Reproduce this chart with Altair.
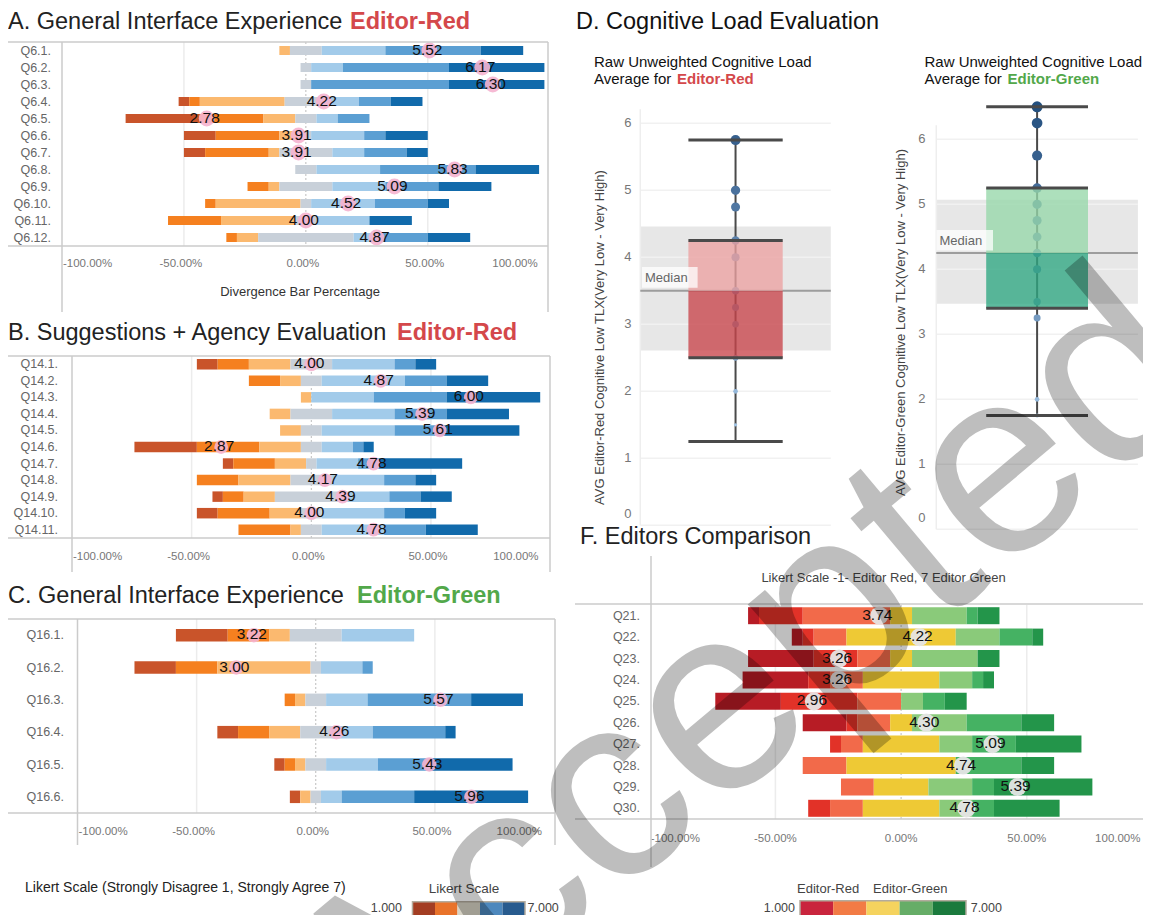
import altair as alt
import pandas as pd

# ------------------------------------------------------------------ data
LEVELS = [1, 2, 3, 4, 5, 6, 7]
TICK_VALUES = [-1.0, -0.5, 0.0, 0.5, 1.0]
TICK_LABELS = ["-100.00%", "-50.00%", "0.00%", "50.00%", "100.00%"]

A_QUESTIONS = ["Q6.1.", "Q6.2.", "Q6.3.", "Q6.4.", "Q6.5.", "Q6.6.", "Q6.7.",
               "Q6.8.", "Q6.9.", "Q6.10.", "Q6.11.", "Q6.12."]
A_COUNTS = [[0, 0, 1, 3, 6, 9, 4], [0, 0, 0, 1, 3, 10, 9], [0, 0, 0, 1, 0, 13, 9],
            [1, 1, 8, 4, 3, 3, 3], [7, 6, 3, 2, 2, 3, 0], [3, 6, 2, 1, 5, 2, 4],
            [2, 6, 1, 5, 3, 4, 2], [0, 0, 0, 2, 6, 9, 6], [0, 2, 1, 5, 5, 5, 5],
            [0, 1, 8, 1, 6, 5, 2], [0, 5, 7, 2, 5, 0, 4], [0, 1, 2, 9, 2, 5, 4]]
A_MEANS = [5.52, 6.17, 6.30, 4.22, 2.78, 3.91, 3.91, 5.83, 5.09, 4.52, 4.00, 4.87]

B_QUESTIONS = ["Q14.1.", "Q14.2.", "Q14.3.", "Q14.4.", "Q14.5.", "Q14.6.", "Q14.7.",
               "Q14.8.", "Q14.9.", "Q14.10.", "Q14.11."]
B_COUNTS = [[2, 3, 4, 4, 6, 2, 2], [0, 3, 2, 2, 8, 4, 4], [0, 0, 1, 0, 6, 7, 9],
            [0, 0, 2, 4, 6, 5, 6], [0, 0, 2, 2, 7, 4, 8], [6, 6, 4, 2, 3, 1, 1],
            [1, 4, 3, 1, 4, 2, 8], [0, 4, 5, 4, 5, 3, 2], [1, 2, 3, 7, 4, 3, 3],
            [2, 5, 3, 2, 6, 2, 3], [0, 5, 1, 2, 6, 4, 5]]
B_MEANS = [4.00, 4.87, 6.00, 5.39, 5.61, 2.87, 4.78, 4.17, 4.39, 4.00, 4.78]

C_QUESTIONS = ["Q16.1.", "Q16.2.", "Q16.3.", "Q16.4.", "Q16.5.", "Q16.6."]
C_COUNTS = [[5, 4, 2, 5, 7, 0, 0], [4, 4, 9, 1, 4, 1, 0], [0, 1, 1, 2, 4, 10, 5],
            [2, 3, 3, 3, 4, 7, 1], [1, 1, 1, 2, 5, 5, 8], [1, 0, 1, 1, 2, 7, 11]]
C_MEANS = [3.22, 3.00, 5.57, 4.26, 5.43, 5.96]

F_QUESTIONS = ["Q21.", "Q22.", "Q23.", "Q24.", "Q25.", "Q26.", "Q27.", "Q28.", "Q29.", "Q30."]
F_COUNTS = [[1, 4, 8, 2, 5, 1, 2], [1, 1, 3, 10, 4, 3, 1], [6, 4, 3, 2, 6, 0, 2],
            [6, 2, 3, 7, 3, 1, 1], [6, 7, 4, 0, 2, 2, 2], [4, 1, 3, 2, 5, 5, 3],
            [0, 1, 2, 7, 3, 4, 6], [0, 0, 4, 10, 0, 6, 3], [0, 0, 3, 5, 4, 2, 9],
            [0, 2, 3, 7, 3, 2, 6]]
F_MEANS = [3.74, 4.22, 3.26, 3.26, 2.96, 4.30, 5.09, 4.74, 5.39, 4.78]

TLX_TICKS = [0, 1, 2, 3, 4, 5, 6]
RED_TLX_POINTS = [5.75, 5.0, 4.75, 4.25, 4.0, 3.5, 3.25, 3.0, 2.5, 2.0, 1.5, 1.25]
RED_TLX_BOX = [1.25, 2.5, 3.5, 4.25, 5.75]        # min, q1, median, q3, max
RED_TLX_BAND = [2.61, 4.46]
GREEN_TLX_POINTS = [6.5, 6.25, 5.75, 5.25, 5.0, 4.75, 4.5, 4.25, 4.0, 3.5, 3.25, 2.0, 1.75]
GREEN_TLX_BOX = [1.75, 3.4, 4.25, 5.25, 6.5]
GREEN_TLX_BAND = [3.47, 5.07]

LEGEND_STEPS = [1, 2, 3, 4, 5]

# ------------------------------------------------------------------ style
LIKERT_COLORS = ["#c9542a", "#f5801f", "#fbb96f", "#c8d0d9", "#a2cbea", "#5b9fd3", "#116aab"]
EDITOR_COLORS = ["#b71c25", "#e23228", "#f26a4a", "#eec935", "#8aca7a", "#45b263", "#23954a"]
LIKERT_LEGEND = ["#a33d22", "#e9732a", "#d8d4c6", "#4d88bd", "#285b8e"]
EDITOR_LEGEND = ["#c9253d", "#f27b45", "#f5d35e", "#66ad67", "#1b7a3d"]
RED = "#d4484b"
GREEN = "#52a84a"
FONT = "Liberation Sans, Arial, sans-serif"
FRAME = "#cbcbcb"
ONE = pd.DataFrame({"_": [0]})


def P(v):
    """page pixel -> chart pixel (8px page margin)"""
    return v - 8


def lbl(text, x, y, size=12, color="#333", weight="normal", align="left",
        baseline="alphabetic", angle=None, opacity=None, font=FONT):
    kw = dict(text=text, fontSize=size, color=color, fontWeight=weight,
              align=align, baseline=baseline, font=font)
    if angle is not None:
        kw["angle"] = angle
    if opacity is not None:
        kw["opacity"] = opacity
    return alt.Chart(ONE).mark_text(**kw).encode(x=alt.value(P(x)), y=alt.value(P(y)))


def hline(x1, x2, y, color=FRAME, width=1.5):
    return alt.Chart(ONE).mark_rule(color=color, strokeWidth=width).encode(
        x=alt.value(P(x1)), x2=alt.value(P(x2)), y=alt.value(P(y)))


def vline(x, y1, y2, color=FRAME, width=1.5):
    return alt.Chart(ONE).mark_rule(color=color, strokeWidth=width).encode(
        x=alt.value(P(x)), y=alt.value(P(y1)), y2=alt.value(P(y2)))


def stack_table(questions, counts):
    rows = []
    for q, cs in zip(questions, counts):
        n = float(sum(cs))
        start = -(cs[0] + cs[1] + cs[2] + cs[3] / 2.0) / n
        for k, c in enumerate(cs):
            if c == 0:
                continue
            rows.append(dict(q=q, level=k + 1, x0=start, x1=start + c / n))
            start += c / n
    return pd.DataFrame(rows)


def likert_panel(questions, counts, means, colors, xr, yr, bar, label_right, tick_y,
                 dot_color, dot_size, dot_opacity, mid_dx=-3, text_size=15.5):
    xs = alt.Scale(domain=[-1, 1], range=[P(xr[0]), P(xr[1])], nice=False, zero=False)
    ys = alt.Scale(domain=questions, range=[P(yr[0]), P(yr[1])], paddingInner=0, paddingOuter=0)
    Y = alt.Y("q:N", scale=ys, axis=None)

    def X(f):
        return alt.X(f, scale=xs, axis=None)

    seg = stack_table(questions, counts)
    mdf = pd.DataFrame({"q": questions, "m": means})
    mdf["mx"] = (mdf["m"] - 4.0) / 3.0
    mdf["label"] = mdf["m"].map(lambda v: "%.2f" % v)
    tdf = pd.DataFrame({"t": TICK_VALUES, "lab": TICK_LABELS})

    grid = alt.Chart(pd.DataFrame({"t": [-0.5, 0.5]})).mark_rule(
        color="#ececec", strokeWidth=1.5).encode(
        x=X("t:Q"), y=alt.value(P(yr[0])), y2=alt.value(P(yr[1])))
    zero = alt.Chart(pd.DataFrame({"t": [0.0]})).mark_rule(
        color="#bdbdbd", strokeWidth=1, strokeDash=[2, 2]).encode(
        x=X("t:Q"), y=alt.value(P(yr[0])), y2=alt.value(P(yr[1])))
    bars = alt.Chart(seg).mark_bar(size=bar).encode(
        x=X("x0:Q"), x2="x1:Q", y=Y,
        color=alt.Color("level:O", scale=alt.Scale(domain=LEVELS, range=colors), legend=None))
    dots = alt.Chart(mdf).mark_circle(size=dot_size, color=dot_color, opacity=dot_opacity).encode(
        x=X("mx:Q"), y=Y)
    txt = alt.Chart(mdf).mark_text(fontSize=text_size, font=FONT, color="#111", dx=-2, dy=-1).encode(
        x=X("mx:Q"), y=Y, text="label:N")
    rowlab = alt.Chart(pd.DataFrame({"q": questions})).mark_text(
        align="right", fontSize=12.5, color="#666", font=FONT).encode(
        x=alt.value(P(label_right)), y=Y, text="q:N")
    tl = alt.Chart(tdf.iloc[[0]]).mark_text(align="left", dx=1, fontSize=11.5, color="#777", font=FONT).encode(
        x=X("t:Q"), y=alt.value(P(tick_y)), text="lab:N")
    tm = alt.Chart(tdf.iloc[1:4]).mark_text(align="center", dx=mid_dx, fontSize=11.5, color="#777", font=FONT).encode(
        x=X("t:Q"), y=alt.value(P(tick_y)), text="lab:N")
    tr = alt.Chart(tdf.iloc[[4]]).mark_text(align="right", dx=-12, fontSize=11.5, color="#777", font=FONT).encode(
        x=X("t:Q"), y=alt.value(P(tick_y)), text="lab:N")
    return alt.layer(grid, zero, bars, dots, txt, rowlab, tl, tm, tr)


def box_panel(cat, points, box, band, pane, box_w, y0, y6, upper, lower, tick_right,
              med_box, med_text):
    pad = (float(pane[1] - pane[0]) / box_w - 1.0) / 2.0
    xs = alt.Scale(domain=[cat], range=[P(pane[0]), P(pane[1])], paddingInner=0, paddingOuter=pad)
    ys = alt.Scale(domain=[0, 6], range=[P(y0), P(y6)], nice=False, zero=False)
    Xc = alt.X("c:N", scale=xs, axis=None)

    def Y(f):
        return alt.Y(f, scale=ys, axis=None)

    stats = pd.DataFrame([dict(c=cat, mn=box[0], q1=box[1], med=box[2], q3=box[3], mx=box[4],
                               lo=band[0], hi=band[1])])
    tick_df = pd.DataFrame({"c": cat, "v": [box[0], box[1], box[3], box[4]]})
    pts = pd.DataFrame({"c": cat, "v": points})
    gdf = pd.DataFrame({"t": TLX_TICKS, "lab": [str(t) for t in TLX_TICKS]})

    band_r = alt.Chart(stats).mark_rect(color="#e7e7e7").encode(
        y=Y("lo:Q"), y2="hi:Q", x=alt.value(P(pane[0])), x2=alt.value(P(pane[1])))
    grid = alt.Chart(gdf).mark_rule(color="#f1f1f1", strokeWidth=1.5).encode(
        y=Y("t:Q"), x=alt.value(P(pane[0])), x2=alt.value(P(pane[1])))
    med_line = alt.Chart(stats).mark_rule(color="#9d9d9d", strokeWidth=2).encode(
        y=Y("med:Q"), x=alt.value(P(pane[0])), x2=alt.value(P(pane[1])))
    whisk = alt.Chart(stats).mark_rule(color="#4a4a4a", strokeWidth=2).encode(
        x=Xc, y=Y("mn:Q"), y2="mx:Q")
    dots = alt.Chart(pts).mark_circle(opacity=1).encode(
        x=Xc, y=Y("v:Q"),
        size=alt.Size("v:Q", scale=alt.Scale(domain=[1, 7], range=[0, 130]), legend=None),
        color=alt.Color("v:Q", scale=alt.Scale(domain=[1.25, 6.5], range=["#a9cbea", "#23507f"]),
                        legend=None))
    low_box = alt.Chart(stats).mark_bar(color=lower, opacity=0.78).encode(
        x=Xc, y=Y("q1:Q"), y2="med:Q")
    up_box = alt.Chart(stats).mark_bar(color=upper, opacity=0.78).encode(
        x=Xc, y=Y("med:Q"), y2="q3:Q")
    ticks = alt.Chart(tick_df).mark_tick(orient="horizontal", size=box_w, thickness=3,
                                         color="#4a4a4a", opacity=1).encode(x=Xc, y=Y("v:Q"))
    tlab = alt.Chart(gdf.iloc[1:]).mark_text(align="right", baseline="middle", fontSize=13,
                                             color="#777", font=FONT).encode(
        x=alt.value(P(tick_right)), y=Y("t:Q"), text="lab:N")
    tlab0 = alt.Chart(gdf.iloc[[0]]).mark_text(align="right", baseline="middle", fontSize=13, dy=-11,
                                               color="#777", font=FONT).encode(
        x=alt.value(P(tick_right)), y=Y("t:Q"), text="lab:N")
    left_edge = vline(pane[0], y6 - 14, y0, color="#eeeeee")
    mbox = alt.Chart(ONE).mark_rect(color="#ffffff", opacity=0.75).encode(
        x=alt.value(P(med_box[0])), x2=alt.value(P(med_box[1])),
        y=alt.value(P(med_box[2])), y2=alt.value(P(med_box[3])))
    mtext = lbl("Median", med_text[0], med_text[1], size=13, color="#666", baseline="middle")
    return alt.layer(band_r, grid, left_edge, med_line, whisk, dots, low_box, up_box, ticks,
                     tlab, tlab0, mbox, mtext)


def legend_bar(colors, xr, yr, tick_x):
    xs = alt.Scale(domain=LEGEND_STEPS, range=[P(xr[0]), P(xr[1])], paddingInner=0, paddingOuter=0)
    rects = alt.Chart(pd.DataFrame({"s": LEGEND_STEPS})).mark_rect().encode(
        x=alt.X("s:O", scale=xs, axis=None), y=alt.value(P(yr[0])), y2=alt.value(P(yr[1])),
        color=alt.Color("s:O", scale=alt.Scale(domain=LEGEND_STEPS, range=colors), legend=None))
    border = alt.Chart(ONE).mark_rect(fillOpacity=0, stroke="#b3ab9d", strokeWidth=1.5).encode(
        x=alt.value(P(xr[0])), x2=alt.value(P(xr[1])), y=alt.value(P(yr[0])), y2=alt.value(P(yr[1])))
    tick = vline(tick_x, yr[1] - 2, 923, color="#000000", width=1.5)
    return alt.layer(rects, border, tick)


layers = []

# ---------------- panel A
layers += [
    lbl("A. General Interface Experience", 8, 29, size=23.5, color="#222"),
    lbl("Editor-Red", 350, 29, size=23.5, color=RED, weight="bold"),
    likert_panel(A_QUESTIONS, A_COUNTS, A_MEANS, LIKERT_COLORS, (62, 549.7), (42, 246), 9, 51, 264,
                 "#f5b3cf", 250, 0.9),
    hline(8, 548, 42), hline(8, 548, 246), vline(62, 42, 312), vline(548, 42, 312),
    lbl("Divergence Bar Percentage", 300, 292, size=13, color="#333", align="center", baseline="middle"),
]

# ---------------- panel B
layers += [
    lbl("B. Suggestions + Agency Evaluation", 8, 339.5, size=23.5, color="#222"),
    lbl("Editor-Red", 397, 339.5, size=23.5, color=RED, weight="bold"),
    likert_panel(B_QUESTIONS, B_COUNTS, B_MEANS, LIKERT_COLORS, (72, 550.6), (356, 538), 10.5, 58, 557,
                 "#f5b3cf", 190, 0.9),
    hline(8, 550, 356), hline(8, 550, 538), vline(72, 356, 572), vline(550, 356, 572),
]

# ---------------- panel C
layers += [
    lbl("C. General Interface  Experience", 8, 602.5, size=23.5, color="#222"),
    lbl("Editor-Green", 357, 602.5, size=23.5, color=GREEN, weight="bold"),
    likert_panel(C_QUESTIONS, C_COUNTS, C_MEANS, LIKERT_COLORS, (77.5, 554), (619, 813), 12.5, 64, 832,
                 "#f5b3cf", 210, 0.9),
    hline(8, 555, 619), hline(8, 555, 813), vline(77.5, 619, 845), vline(555, 619, 845),
]

# ---------------- panel D (cognitive load box plots)
layers += [
    lbl("D. Cognitive Load  Evaluation", 576, 28.5, size=23.5, color="#111"),
    lbl("Raw Unweighted Cognitive Load", 594, 66.7, size=15, color="#111"),
    lbl("Average for", 594, 84, size=15, color="#111"),
    lbl("Editor-Red", 677, 84, size=15, color=RED, weight="bold"),
    lbl("Raw Unweighted Cognitive Load", 924.5, 66.7, size=15, color="#111"),
    lbl("Average for", 924.5, 84, size=15, color="#111"),
    lbl("Editor-Green", 1007.5, 84, size=15, color=GREEN, weight="bold"),
    box_panel("Editor-Red", RED_TLX_POINTS, RED_TLX_BOX, RED_TLX_BAND, (640.3, 830.8), 94.3,
              525.3, 123.3, "#eca2a2", "#c8444a", 631.5,
              (642, 697.6, 267, 287.7), (645, 278)),
    box_panel("Editor-Green", GREEN_TLX_POINTS, GREEN_TLX_BOX, GREEN_TLX_BAND, (936.3, 1137.9), 101.8,
              529.3, 139.3, "#96d7a9", "#2ea782", 925.5,
              (936.5, 993, 230, 250.5), (939.5, 240.5)),
    lbl("AVG Editor-Red Cognitive Low TLX(Very Low - Very High)", 599.6, 337.5, size=13, color="#444",
        align="center", baseline="middle", angle=270),
    lbl("AVG Editor-Green Cognitive Low TLX(Very Low - Very High)", 901, 322.5, size=13, color="#444",
        align="center", baseline="middle", angle=270),
]

# ---------------- panel F
layers += [
    lbl("F. Editors Comparison", 580, 543.5, size=23.5, color="#222"),
    lbl("Likert Scale -1- Editor Red, 7 Editor Green", 883.5, 577.5, size=13, color="#444",
        align="center", baseline="middle"),
    likert_panel(F_QUESTIONS, F_COUNTS, F_MEANS, EDITOR_COLORS, (649.7, 1152.5), (605, 819), 17, 640, 839,
                 "#e5e5e5", 330, 0.95, mid_dx=0, text_size=15.5),
    hline(575, 1151, 604), hline(575, 1151, 819), vline(651, 556, 867),
]

# ---------------- legends
layers += [
    lbl("Likert Scale (Strongly Disagree 1, Strongly Agree 7)", 25, 891.7, size=14, color="#222"),
    lbl("Likert Scale", 464, 893.3, size=13.5, color="#444", align="center"),
    legend_bar(LIKERT_LEGEND, (412.5, 525), (901.7, 920), 468),
    lbl("1.000", 402, 908, size=12.5, color="#444", align="right", baseline="middle"),
    lbl("7.000", 527.5, 908, size=12.5, color="#444", baseline="middle"),
    lbl("Editor-Red", 797, 893.3, size=13, color="#444"),
    lbl("Editor-Green", 873, 893.3, size=13, color="#444"),
    legend_bar(EDITOR_LEGEND, (800, 966), (900.7, 919.3), 882),
    lbl("1.000", 795, 907.5, size=12.5, color="#444", align="right", baseline="middle"),
    lbl("7.000", 970.7, 907.5, size=12.5, color="#444", baseline="middle"),
]

# ---------------- watermark
layers += [
    lbl("Accepted", 745, 685, size=265, color="#000000", opacity=0.25, align="center",
        baseline="middle", angle=320),
]

chart = alt.layer(*layers).resolve_scale(
    x="independent", y="independent", color="independent", size="independent"
).properties(
    width=1135, height=907, padding=0, autosize=alt.AutoSizeParams(type="none")
).configure_view(stroke=None)

chart.save("out.html", embed_options={"renderer": "svg", "actions": False})
